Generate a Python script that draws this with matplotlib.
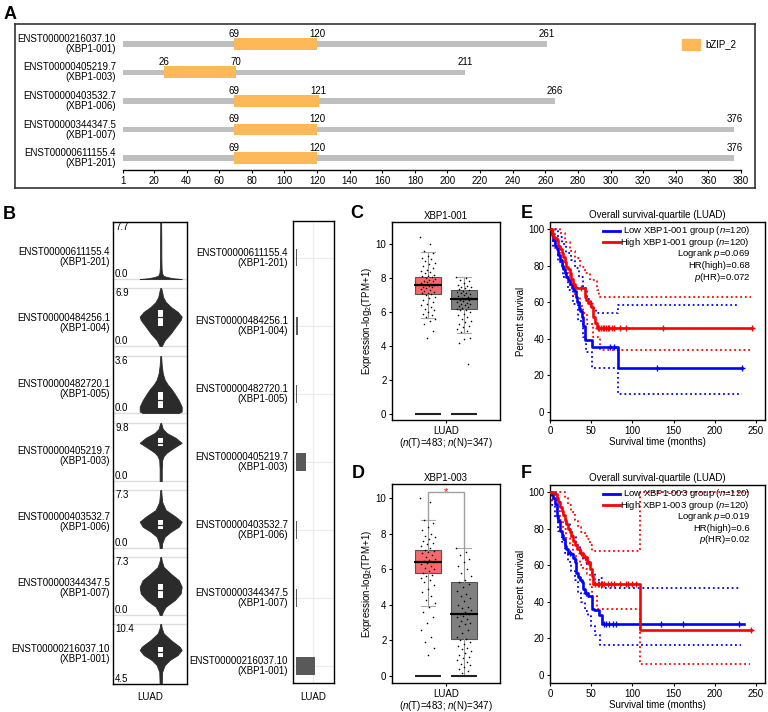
import numpy as np
import matplotlib
matplotlib.use('Agg')
import matplotlib.pyplot as plt
from matplotlib.patches import Rectangle
from matplotlib.lines import Line2D

plt.rcParams['font.family'] = ['Liberation Sans', 'DejaVu Sans']
plt.rcParams['font.size'] = 7
plt.rcParams['mathtext.fontset'] = 'custom'
plt.rcParams['mathtext.rm'] = 'Liberation Sans'
plt.rcParams['mathtext.it'] = 'Liberation Sans:italic'
plt.rcParams['axes.linewidth'] = 0.9
plt.rcParams['xtick.major.width'] = 0.8
plt.rcParams['ytick.major.width'] = 0.8
plt.rcParams['xtick.major.size'] = 2.5
plt.rcParams['ytick.major.size'] = 2.5
plt.rcParams['xtick.major.pad'] = 1.5
plt.rcParams['ytick.major.pad'] = 1.5

# ---------------- data ----------------
# Panel A
A_labels = ['ENST00000216037.10\n(XBP1-001)', 'ENST00000405219.7\n(XBP1-003)',
            'ENST00000403532.7\n(XBP1-006)', 'ENST00000344347.5\n(XBP1-007)',
            'ENST00000611155.4\n(XBP1-201)']
A_length = [261, 211, 266, 376, 376]
A_dom_start = [69, 26, 69, 69, 69]
A_dom_end = [120, 70, 121, 120, 120]
A_ticks = [1, 20, 40, 60, 80, 100, 120, 140, 160, 180, 200, 220, 240, 260, 280,
           300, 320, 340, 360, 380]

# Panel B (violins, top to bottom)
B_labels = ['ENST00000611155.4\n(XBP1-201)', 'ENST00000484256.1\n(XBP1-004)',
            'ENST00000482720.1\n(XBP1-005)', 'ENST00000405219.7\n(XBP1-003)',
            'ENST00000403532.7\n(XBP1-006)', 'ENST00000344347.5\n(XBP1-007)',
            'ENST00000216037.10\n(XBP1-001)']
B_min = [0.0, 0.0, 0.0, 0.0, 0.0, 0.0, 4.5]
B_max = [7.7, 6.9, 3.6, 9.8, 7.3, 7.3, 10.4]
V_201_y = [0.0, 0.1, 0.27, 0.44, 0.8, 1.5, 3.0, 5.0, 7.7]
V_201_d = [1.0, 0.6, 0.29, 0.12, 0.06, 0.04, 0.03, 0.03, 0.02]
V_004_y = [0.0, 0.7, 1.5, 2.3, 3.1, 3.5, 4.06, 4.65, 5.24, 5.8, 6.6, 6.9]
V_004_d = [0.05, 0.19, 0.48, 0.71, 0.95, 1.0, 0.81, 0.48, 0.24, 0.12, 0.05, 0.02]
V_005_y = [0.0, 0.1, 0.4, 0.8, 1.2, 1.5, 1.8, 2.1, 2.5, 3.0, 3.6]
V_005_d = [0.86, 1.0, 1.0, 0.86, 0.67, 0.52, 0.33, 0.19, 0.1, 0.05, 0.02]
V_003_y = [0.0, 2.0, 3.5, 4.2, 4.8, 5.6, 6.45, 7.3, 8.1, 8.8, 9.8]
V_003_d = [0.05, 0.05, 0.07, 0.14, 0.29, 0.62, 1.0, 0.71, 0.29, 0.1, 0.02]
V_006_y = [0.0, 0.59, 1.42, 2.05, 2.68, 3.31, 3.94, 4.78, 5.8, 7.3]
V_006_d = [0.05, 0.07, 0.19, 0.48, 0.86, 1.0, 0.71, 0.24, 0.07, 0.02]
V_007_y = [0.0, 0.41, 1.04, 1.88, 2.7, 3.55, 4.38, 5.2, 6.05, 6.8, 7.3]
V_007_d = [0.05, 0.1, 0.24, 0.67, 0.95, 1.0, 0.86, 0.48, 0.14, 0.05, 0.02]
V_001_y = [4.5, 5.7, 6.36, 6.86, 7.35, 7.84, 8.17, 8.82, 9.48, 10.0, 10.4]
V_001_d = [0.05, 0.07, 0.19, 0.43, 0.81, 1.0, 0.9, 0.48, 0.14, 0.05, 0.02]
B_q1 = [None, 2.38, 0.31, 5.87, 2.35, 2.09, 7.19]
B_med = [None, 3.45, 0.83, 6.5, 2.95, 3.13, 7.67]
B_q3 = [None, 4.29, 1.35, 7.28, 3.52, 3.96, 8.17]
B_prop = [0.02, 0.05, 0.02, 0.28, 0.03, 0.03, 0.57]

# Panel C / D boxes: (whislo, q1, med, q3, whishi)
C_tumor_box = [5.63, 7.06, 7.59, 8.08, 9.55]
C_normal_box = [4.78, 6.18, 6.75, 7.29, 8.04]
D_tumor_box = [3.94, 5.78, 6.40, 7.09, 8.78]
D_normal_box = [0.0, 2.06, 3.49, 5.29, 7.22]
C_tumor_pts = [10.4, 10.0, 9.6, 9.5, 9.3, 9.2, 9.1, 9.0, 8.9, 8.8, 8.7, 8.6, 8.5, 8.4,
               8.35, 8.3, 8.2, 8.15, 8.1, 8.05, 8.0, 7.95, 7.9, 7.85, 7.8, 7.75, 7.7,
               7.65, 7.6, 7.6, 7.55, 7.5, 7.45, 7.4, 7.35, 7.3, 7.25, 7.2, 7.15, 7.1,
               7.05, 7.0, 6.9, 6.8, 6.7, 6.6, 6.5, 6.4, 6.3, 6.2, 6.1, 6.0, 5.9, 5.8,
               5.7, 5.6, 5.5, 5.3, 4.9, 4.5]
C_normal_pts = [8.05, 8.0, 7.9, 7.8, 7.7, 7.6, 7.55, 7.5, 7.45, 7.4, 7.35, 7.3, 7.25,
                7.2, 7.15, 7.1, 7.05, 7.0, 6.95, 6.9, 6.85, 6.8, 6.75, 6.7, 6.7, 6.65,
                6.6, 6.55, 6.5, 6.45, 6.4, 6.35, 6.3, 6.25, 6.2, 6.15, 6.1, 6.0, 5.9,
                5.8, 5.7, 5.6, 5.5, 5.4, 5.3, 5.2, 5.1, 5.0, 4.9, 4.8, 4.5, 4.4, 4.2, 2.95]
D_tumor_pts = [10.0, 9.8, 8.8, 8.6, 8.4, 8.2, 8.0, 7.9, 7.8, 7.7, 7.6, 7.5, 7.4, 7.3,
               7.2, 7.1, 7.05, 7.0, 6.9, 6.8, 6.7, 6.6, 6.5, 6.45, 6.4, 6.35, 6.3, 6.2,
               6.1, 6.0, 5.9, 5.8, 5.7, 5.6, 5.5, 5.4, 5.3, 5.1, 4.9, 4.7, 4.5, 4.3,
               4.1, 3.9, 3.6, 3.3, 3.0, 2.6, 2.2, 1.9, 1.6, 1.2]
D_normal_pts = [7.2, 7.0, 6.8, 6.6, 6.4, 6.2, 6.0, 5.8, 5.6, 5.4, 5.3, 5.2, 5.0, 4.8,
                4.6, 4.5, 4.4, 4.2, 4.0, 3.9, 3.8, 3.7, 3.6, 3.5, 3.5, 3.4, 3.3, 3.2,
                3.1, 3.0, 2.9, 2.8, 2.6, 2.4, 2.2, 2.1, 2.0, 1.9, 1.8, 1.7, 1.6, 1.5,
                1.4, 1.3, 1.2, 1.1, 1.0, 0.9, 0.8, 0.7, 0.6, 0.5, 0.4, 0.3, 0.2]
CD_zero = [0.0, 0.0]

# Panel E / F Kaplan-Meier
E_low_t = [0, 2, 4, 6, 8, 10, 12, 14, 16, 18, 20, 22, 24, 27, 29, 31, 33, 35, 36.5, 38.5, 40.5, 42.5, 50.5, 82.5, 233]
E_low_s = [100, 97, 94, 91, 89, 86, 83, 80, 78, 76, 74, 72, 70, 68, 66, 63, 60, 57, 55, 52, 47, 39.5, 35.5, 23.8, 23.8]
E_low_cens = [73, 78, 130, 233]
E_low_up_t = [0, 5, 10, 15, 20, 25, 30, 35, 40, 45, 50, 56, 82.5, 230]
E_low_up_s = [100, 100, 96, 92, 87, 83, 79, 74, 68, 62, 57, 54, 58.5, 58.5]
E_low_lo_t = [0, 4, 10, 16, 22, 28, 34, 40, 44, 50.7, 82.5, 233]
E_low_lo_s = [100, 91, 82, 74, 67, 59, 50, 41, 33, 23.8, 9.7, 9.7]
E_high_t = [0, 2, 4, 6, 8, 10, 12, 14, 16, 18, 20, 22, 24, 26, 28, 30, 32, 42, 44, 46, 50, 52.5, 54.5, 56.5, 245.5]
E_high_s = [100, 98, 96, 95, 94, 91, 89, 87, 85, 82, 79.5, 78, 76, 73, 70, 68.5, 67.6, 63, 61, 59.4, 57.6, 52, 48.4, 45.7, 45.7]
E_high_cens = [38, 48, 58, 60, 62, 64, 66, 68, 70, 72, 75, 78, 85, 92, 137, 245.5]
E_high_up_t = [0, 6, 12, 18, 24, 30, 36.5, 42, 48.7, 56.8, 59, 244]
E_high_up_s = [100, 100, 98, 93, 88, 84, 79.5, 76, 72, 66.7, 63, 63]
E_high_lo_t = [0, 6, 12, 18, 24, 30, 36, 40.6, 45, 52.8, 61, 245]
E_high_lo_s = [100, 90, 83, 76, 69, 63, 58, 54, 48, 41, 33.8, 33.8]

F_low_t = [0, 2, 4, 6, 8, 10, 12, 14, 16, 18, 20, 22, 24, 26, 28, 30, 32, 34, 36, 38.5, 40.5, 42.5, 46.5, 50.5, 54, 59, 63, 235]
F_low_s = [100, 99, 97, 93.6, 87, 84, 79, 76.5, 74.5, 70.8, 69, 67, 66.5, 66, 64, 62, 56, 53.5, 52, 50.7, 47, 45, 43.4, 36, 35.5, 32.5, 28, 28]
F_low_cens = [24, 44, 65, 68, 72, 76, 80, 135, 162, 230]
F_low_up_t = [0, 4, 8, 12, 16, 20, 24, 28, 32, 36, 40, 45, 50, 55, 59, 63, 230]
F_low_up_s = [100, 100, 96, 91, 87, 83, 78, 76, 71, 66, 63, 60, 56, 52, 53, 47.6, 47.6]
F_low_lo_t = [0, 3, 6, 10, 14, 18, 22, 26, 30, 34, 38, 42, 46, 50, 55, 61, 232]
F_low_lo_s = [100, 93, 86, 79, 73, 67, 62, 57, 52, 45, 40, 35, 32, 27, 22, 16.5, 16.5]
F_high_t = [0, 4, 6, 8, 10, 12, 14, 16, 18, 20, 22, 24, 26, 28, 30, 33, 36.5, 40.5, 44.5, 48, 50.5, 52.5, 108.8, 243.5]
F_high_s = [100, 99.5, 99, 97, 94.5, 92, 90, 87.5, 85, 82.5, 80, 78, 76, 73.5, 71, 69, 67, 64.4, 61.7, 58, 54.4, 49.8, 24.8, 24.8]
F_high_cens = [38, 42, 46, 55, 58, 60, 63, 66, 70, 74, 78, 85, 92, 95, 100, 104, 243.5]
F_high_up_t = [0, 14, 18, 22, 26, 30, 34, 38, 42, 45, 48, 51, 108.8, 243]
F_high_up_s = [100, 100, 97, 93, 89, 85, 81, 78, 76, 74.5, 71, 68, 100, 100]
F_high_lo_t = [0, 4, 8, 12, 16, 20, 24, 28, 32, 36, 40, 45, 48, 51, 57, 108.8, 243]
F_high_lo_s = [100, 96, 90, 85, 80, 75, 71, 66, 63, 60, 58, 55, 48, 43.4, 36, 6, 6]

# ---------------- figure ----------------
W, H = 768, 712
fig = plt.figure(figsize=(W / 100, H / 100), dpi=100)


def box(x0, y0, x1, y1):
    return [x0 / W, 1 - y1 / H, (x1 - x0) / W, (y1 - y0) / H]


def ftext(x, y, s, **kw):
    return fig.text(x / W, 1 - y / H, s, **kw)


def fline(x0, x1, y, **kw):
    fig.add_artist(Line2D([x0 / W, x1 / W], [1 - y / H, 1 - y / H],
                          transform=fig.transFigure, **kw))


for lab, x, y in [('A', 4, 19), ('B', 3, 219), ('C', 350, 218), ('D', 352, 478),
                  ('E', 521, 218), ('F', 521, 478)]:
    ftext(x, y, lab, fontsize=13, fontweight='bold', va='baseline')

# ---------- Panel A ----------
axAf = fig.add_axes(box(15, 24, 755, 188))
axAf.set_xticks([]); axAf.set_yticks([])
for s in axAf.spines.values():
    s.set_linewidth(1.2); s.set_color('#333333')

axA = fig.add_axes(box(123, 30, 741, 170))
axA.patch.set_alpha(0)
axA.set_xlim(1, 380)
axA.set_ylim(4.42, -0.49)
orange = '#FDB858'
for i in range(len(A_length)):
    L, s0, e0 = A_length[i], A_dom_start[i], A_dom_end[i]
    axA.barh(i, L - 1, left=1, height=0.18, color='#BFBFBF')
    axA.barh(i, e0 - s0, left=s0, height=0.42, color=orange)
    for v in (s0, e0, L):
        axA.text(v, i - 0.19, str(v), ha='center', va='bottom', fontsize=7)
    axA.annotate(A_labels[i], xy=(0, i), xycoords=('axes fraction', 'data'),
                 xytext=(-7, 0), textcoords='offset pixels', ha='right',
                 va='center', multialignment='right', linespacing=1.0)
axA.set_xticks(A_ticks)
axA.set_yticks([])
for sp in ('top', 'right', 'left'):
    axA.spines[sp].set_visible(False)
axA.spines['bottom'].set_linewidth(1.0)
fig.patches.append(Rectangle((682 / W, 1 - 50 / H), 18 / W, 11 / H,
                             transform=fig.transFigure, color=orange))
ftext(705, 44.5, 'bZIP_2', va='center')

# ---------- Panel B left (violins) ----------
V_y = [V_201_y, V_004_y, V_005_y, V_003_y, V_006_y, V_007_y, V_001_y]
V_d = [V_201_d, V_004_d, V_005_d, V_003_d, V_006_d, V_007_d, V_001_d]
row_top = [222, 288, 356, 423, 490, 557, 624]
row_bot = [279, 346, 413, 481, 548, 615, 684]
label_y = [257, 323, 389, 456, 522, 588, 654]
cx, half = 47.7, 21.0
for k in range(7):
    ax = fig.add_axes(box(113, row_top[k], 187, row_bot[k]))
    ax.set_xlim(0, 74)
    ax.set_ylim(B_min[k], B_max[k])
    ax.axis('off')
    ax.axhline(B_min[k], color='#DDDDDD', lw=1.0, clip_on=False, zorder=0)
    ax.axhline(B_max[k], color='#DDDDDD', lw=1.0, clip_on=False, zorder=0)
    y = np.array(V_y[k]); d = np.array(V_d[k]) * half
    ax.fill_betweenx(y, cx - d, cx + d, color='#2B2B2B', lw=0.6,
                     edgecolor='#2B2B2B', clip_on=False, zorder=2)
    if B_q1[k] is not None:
        ax.add_patch(Rectangle((cx - 2.5, B_q1[k]), 5, B_q3[k] - B_q1[k],
                               facecolor='white', edgecolor='none', zorder=3))
        ax.plot([cx - 2.5, cx + 2.5], [B_med[k], B_med[k]], color='#2B2B2B',
                lw=0.9, zorder=4)
    ax.text(2, 1, f'{B_max[k]:.1f}', transform=ax.get_xaxis_transform(),
            ha='left', va='top', fontsize=7)
    ax.text(2, 0, f'{B_min[k]:.1f}', transform=ax.get_xaxis_transform(),
            ha='left', va='bottom', fontsize=7)
    ftext(110, label_y[k], B_labels[k], ha='right', va='center',
          multialignment='right', linespacing=1.0)
axBf = fig.add_axes(box(113, 222, 187, 684))
axBf.patch.set_alpha(0)
axBf.set_xticks([]); axBf.set_yticks([])
for s in axBf.spines.values():
    s.set_linewidth(1.0)
ftext(150, 697, 'LUAD', ha='center', va='center')

# ---------- Panel B right (bars) ----------
axBR = fig.add_axes(box(293, 221, 334, 683))
axBR.set_xlim(-3 / 34, 38 / 34)
axBR.set_ylim(6.248, -0.536)
pos = np.arange(7)
for i in pos:
    axBR.axhline(i, color='#EBEBEB', lw=0.8, zorder=0)
axBR.axvline(0.5, color='#EBEBEB', lw=0.8, zorder=0)
axBR.barh(pos, B_prop, height=0.264, color='#595959', zorder=2)
axBR.set_xticks([]); axBR.set_yticks([])
for s in axBR.spines.values():
    s.set_linewidth(1.0)
for i in pos:
    axBR.annotate(B_labels[i], xy=(0, i), xycoords=('axes fraction', 'data'),
                  xytext=(-5, 0), textcoords='offset pixels', ha='right',
                  va='center', multialignment='right', linespacing=1.0)
ftext(313.5, 697, 'LUAD', ha='center', va='center')


# ---------- Panels C, D ----------
def expr_panel(rect, title, tb, nb, tp, npnts, ylim, sig=False):
    ax = fig.add_axes(box(*rect))
    ax.set_xlim(0, 3)
    ax.set_ylim(*ylim)
    stats = []
    for b in (tb, nb):
        stats.append(dict(whislo=b[0], q1=b[1], med=b[2], q3=b[3], whishi=b[4], fliers=[]))
    bp = ax.bxp(stats, positions=[1, 2], widths=0.74, patch_artist=True,
                showfliers=False, capwidths=0.4,
                boxprops=dict(edgecolor='#555555', lw=0.8),
                whiskerprops=dict(color='#999999', lw=0.8),
                capprops=dict(color='#AAAAAA', lw=0.8),
                medianprops=dict(color='black', lw=1.6), zorder=1)
    bp['boxes'][0].set_facecolor('#F8686C')
    bp['boxes'][1].set_facecolor('#808080')
    for p, vals in ((1, tp), (2, npnts)):
        n = len(vals)
        jit = ((np.arange(n) * 0.618034) % 1.0 - 0.5) * 0.42
        ax.scatter(p + jit, vals, s=1.3, color='black', lw=0, zorder=3)
    for p, b in ((1, tb), (2, nb)):
        ax.plot([p - 0.37, p + 0.37], [b[2], b[2]], color='black', lw=1.4, zorder=4)
    ax.hlines(CD_zero, [0.63, 1.63], [1.37, 2.37], color='#222222', lw=1.5, zorder=4)
    if sig:
        top = 10.37
        ax.plot([1, 1, 2, 2], [tb[4], top, top, nb[4]], color='#A0A0A0', lw=1.0, zorder=2)
        ax.text(1.5, top, '*', color='red', ha='center', va='center', fontsize=8)
    ax.set_yticks([0, 2, 4, 6, 8, 10])
    ax.set_xticks([1.5])
    ax.set_xticklabels(['LUAD\n($n$(T)=483; $n$(N)=347)'], linespacing=1.0)
    ax.set_ylabel('Expression-log$_2$(TPM+1)', labelpad=1)
    ax.set_title(title, pad=2, fontsize=7)
    for s in ax.spines.values():
        s.set_linewidth(1.0)
    return ax


expr_panel((392, 222, 500, 420), 'XBP1-001', C_tumor_box, C_normal_box,
           C_tumor_pts, C_normal_pts, (-0.35, 11.3))
expr_panel((392, 484, 500, 683), 'XBP1-003', D_tumor_box, D_normal_box,
           D_tumor_pts, D_normal_pts, (-0.39, 10.8), sig=True)


# ---------- Panels E, F ----------
def step_val(t, s, x):
    t = np.asarray(t); s = np.asarray(s)
    idx = np.searchsorted(t, x, side='right') - 1
    return s[np.clip(idx, 0, len(s) - 1)]


def km_panel(rect, title, low, high, ytop, texts):
    ax = fig.add_axes(box(*rect))
    ax.set_xlim(0, 261)
    ax.set_ylim(-4.5, 104)
    dot = (0, (1, 1.6))
    for grp, col in ((low, 'blue'), (high, 'red')):
        t, s, cens, ut, us, lt, ls = grp
        ax.step(ut, us, where='post', color=col, lw=1.3, ls=dot, zorder=2)
        ax.step(lt, ls, where='post', color=col, lw=1.3, ls=dot, zorder=2)
    for grp, col in ((low, 'blue'), (high, 'red')):
        t, s, cens, ut, us, lt, ls = grp
        ax.step(t, s, where='post', color=col, lw=1.9, zorder=3)
        ax.plot(cens, step_val(t, s, cens), ls='none', marker='+', ms=4.5,
                mew=1.0, color=col, zorder=4)
    ax.set_xticks([0, 50, 100, 150, 200, 250])
    ax.set_yticks([0, 20, 40, 60, 80, 100])
    ax.set_xlabel('Survival time (months)', labelpad=1)
    ax.set_ylabel('Percent survival', labelpad=2)
    ax.set_title(title, pad=3, fontsize=7)
    for s in ax.spines.values():
        s.set_linewidth(1.0)
    ys = [ytop + 11.6 * j for j in range(5)]
    fline(603, 620, ys[0], color='blue', lw=2.0)
    fline(603, 620, ys[1], color='red', lw=2.0)
    for j, tx in enumerate(texts):
        ftext(750, ys[j], tx, ha='right', va='center', fontsize=6.8)
    return ax


km_panel((550, 222, 765, 420), 'Overall survival-quartile (LUAD)',
         (E_low_t, E_low_s, E_low_cens, E_low_up_t, E_low_up_s, E_low_lo_t, E_low_lo_s),
         (E_high_t, E_high_s, E_high_cens, E_high_up_t, E_high_up_s, E_high_lo_t, E_high_lo_s),
         230.7,
         ['Low XBP1-001 group ($n$=120)', 'High XBP1-001 group ($n$=120)',
          'Logrank $p$=0.069', 'HR(high)=0.68', '$p$(HR)=0.072'])
km_panel((550, 485, 765, 683), 'Overall survival-quartile (LUAD)',
         (F_low_t, F_low_s, F_low_cens, F_low_up_t, F_low_up_s, F_low_lo_t, F_low_lo_s),
         (F_high_t, F_high_s, F_high_cens, F_high_up_t, F_high_up_s, F_high_lo_t, F_high_lo_s),
         493.5,
         ['Low XBP1-003 group ($n$=120)', 'High XBP1-003 group ($n$=120)',
          'Logrank $p$=0.019', 'HR(high)=0.6', '$p$(HR)=0.02'])

fig.savefig('out.png', dpi=100)
